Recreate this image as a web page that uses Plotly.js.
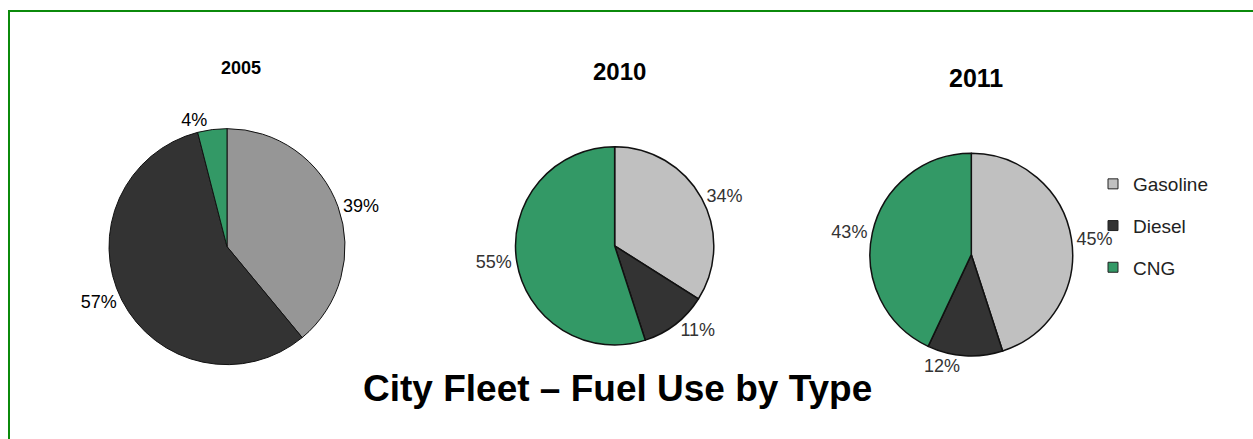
<!DOCTYPE html>
<html>
<head>
<meta charset="utf-8">
<script src="https://cdn.plot.ly/plotly-3.0.1.min.js"></script>
<style>html,body{margin:0;padding:0;background:#fff}#chart{width:1253px;height:439px}</style>
</head>
<body>
<div id="chart"></div>
<script>
// ---- data ----
const fuelTypes = ["Gasoline", "Diesel", "CNG"];
const years = ["2005", "2010", "2011"];
const share2005 = [39, 57, 4];
const share2010 = [34, 11, 55];
const share2011 = [45, 12, 43];
const chartTitle = "City Fleet \u2013 Fuel Use by Type";

// ---- styles ----
const FONT = "Liberation Sans, Arial, sans-serif";
const colors2005 = ["#969696", "#333333", "#339966"];
const colorsLater = ["#c0c0c0", "#333333", "#339966"];
const W = 1253, H = 439;
const px = v => v / W;
const py = v => (H - v) / H;

function pieTrace(values, colors, dom, labelColor, lineW) {
  return {
    type: "pie",
    labels: fuelTypes,
    values: values,
    sort: false,
    direction: "clockwise",
    rotation: 0,
    marker: {colors: colors, line: {color: "#111", width: lineW}},
    textposition: "outside",
    texttemplate: "%{value}%",
    outsidetextfont: {family: FONT, size: 18, color: labelColor},
    showlegend: false,
    hoverinfo: "label+percent",
    domain: dom
  };
}

const traces = [
  pieTrace(share2005, colors2005, {x: [px(109), px(345)], y: [py(365), py(128.3)]}, "#000", 1),
  pieTrace(share2010, colorsLater, {x: [px(514.3), px(715)], y: [py(345), py(146.7)]}, "#333", 1.5),
  pieTrace(share2011, colorsLater, {x: [px(869.3), px(1073.3)], y: [py(356), py(153.3)]}, "#333", 1.5)
];

// legend entries (one per fuel type)
fuelTypes.forEach((f, i) => {
  traces.push({
    type: "scatter", mode: "markers", x: [null], y: [null],
    name: f, legendgroup: f, showlegend: true, hoverinfo: "skip",
    marker: {symbol: "square", size: 10, color: colorsLater[i], line: {color: "#222", width: 1}}
  });
});

const annotations = [
  {text: "<b>" + years[0] + "</b>", x: px(241), y: py(68), size: 18},
  {text: "<b>" + years[1] + "</b>", x: px(619.5), y: py(71.5), size: 24},
  {text: "<b>" + years[2] + "</b>", x: px(975.5), y: py(77.5), size: 25},
  {text: "<b>" + chartTitle + "</b>", x: px(617), y: py(388), size: 37}
].map(a => ({
  text: a.text, x: a.x, y: a.y, xref: "paper", yref: "paper",
  xanchor: "center", yanchor: "middle", showarrow: false,
  font: {family: FONT, size: a.size, color: "#000"}
}));

const layout = {
  width: W, height: H,
  margin: {l: 0, r: 0, t: 0, b: 0},
  paper_bgcolor: "#fff", plot_bgcolor: "rgba(0,0,0,0)",
  font: {family: FONT},
  xaxis: {visible: false}, yaxis: {visible: false},
  showlegend: true,
  legend: {
    x: px(1093), y: py(165), xanchor: "left", yanchor: "top",
    font: {family: FONT, size: 19, color: "#222"},
    tracegroupgap: 14, bgcolor: "rgba(0,0,0,0)", itemclick: false
  },
  annotations: annotations,
  shapes: [{
    type: "rect", xref: "paper", yref: "paper",
    x0: px(9), x1: 1.05, y0: -0.1, y1: py(11),
    line: {color: "#0b8a0b", width: 2}, fillcolor: "rgba(0,0,0,0)", layer: "above"
  }]
};

Plotly.newPlot("chart", traces, layout, {displayModeBar: false, staticPlot: true});
</script>
</body>
</html>
